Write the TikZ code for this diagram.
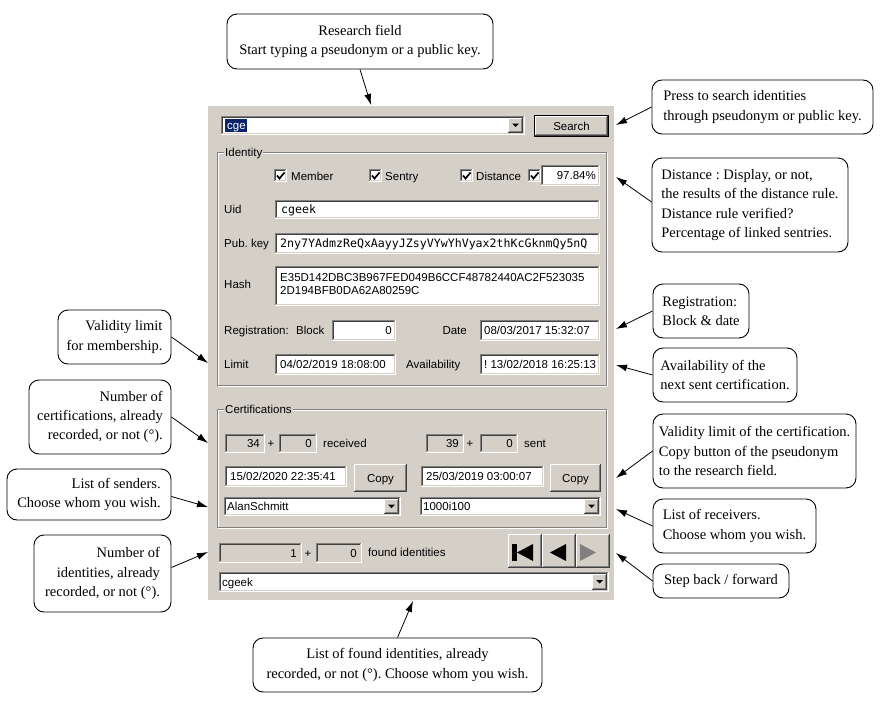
\documentclass[tikz,border=0pt]{standalone}
\usepackage{fontspec}
\setmainfont{Liberation Serif}
\newfontfamily\guifont{Liberation Sans}
\newfontfamily\monofont{DejaVu Sans Mono}
\usetikzlibrary{arrows.meta,calc}
\definecolor{guigray}{HTML}{D4D0C8}
\definecolor{gdark}{HTML}{808080}
\definecolor{gblack}{HTML}{404040}
\definecolor{selblue}{HTML}{0A246A}
\frenchspacing
\tikzset{
  callout/.style={draw=black, line width=0.9pt, fill=white, rounded corners=10pt,
    inner sep=0pt, font=\fontsize{14.5}{19.3}\selectfont},
  ptr/.style={-{Latex[length=11pt,width=7pt]}, line width=0.8pt},
  gui/.style={font=\guifont\fontsize{11.5}{13.5}\selectfont, inner sep=0pt},
  mono/.style={font=\monofont\fontsize{11.6}{14}\selectfont, inner sep=0pt},
  gl/.style={gui, anchor=base west},
  gr/.style={gui, anchor=base east},
  gc/.style={gui, anchor=base},
}
\newcommand\winSunk[5]{%
  \fill[#5] (#1,#2) rectangle (#3,#4);
  \draw[gdark, line width=1pt] (#1+0.5,#4) -- (#1+0.5,#2+0.5) -- (#3,#2+0.5);
  \draw[gblack, line width=1pt] (#1+1.5,#4-1) -- (#1+1.5,#2+1.5) -- (#3-1,#2+1.5);
  \draw[white, line width=1pt] (#1,#4-0.5) -- (#3-0.5,#4-0.5) -- (#3-0.5,#2);
  \draw[guigray, line width=1pt] (#1+1,#4-1.5) -- (#3-1.5,#4-1.5) -- (#3-1.5,#2+1);
}
\newcommand\winRaise[4]{%
  \fill[guigray] (#1,#2) rectangle (#3,#4);
  \draw[white, line width=1pt] (#1+0.5,#4-1) -- (#1+0.5,#2+0.5) -- (#3-1,#2+0.5);
  \draw[gblack, line width=1pt] (#1,#4-0.5) -- (#3-0.5,#4-0.5) -- (#3-0.5,#2);
  \draw[gdark, line width=1pt] (#1+1,#4-1.5) -- (#3-1.5,#4-1.5) -- (#3-1.5,#2+1);
}
\newcommand\winCheck[2]{%
  \winSunk{#1}{#2}{#1+13}{#2+13}{white}
  \draw[line width=1.7pt] (#1+3,#2+6.5) -- (#1+5.5,#2+9.5) -- (#1+10.5,#2+3.5);
}
\newcommand\winDrop[3]{% x2 y1 y2
  \winRaise{#1-17}{#2+2}{#1-2}{#3-2}
  \fill[black] (#1-13,{(#2+#3)/2-2}) -- (#1-6,{(#2+#3)/2-2}) -- (#1-9.5,{(#2+#3)/2+1.5}) -- cycle;
}
\newcommand\winGroup[6]{% x1 y1 x2 y2 name label
  \draw[white, line width=1pt] (#1+1,#2+1) rectangle (#3+1,#4+1);
  \draw[gdark, line width=1pt] (#1,#2) rectangle (#3,#4);
  \node[gui, fill=guigray, inner xsep=1pt, inner ysep=1pt, anchor=base west] (#5) at (#1+7,#2+4) {#6};
}
\begin{document}
\begin{tikzpicture}[x=1pt,y=-1pt]
\useasboundingbox (0,0) rectangle (889,712);
\fill[white] (0,0) rectangle (889,712);

% ---------- panel ----------
\fill[guigray] (208,106) rectangle (614,600);

% search combo
\winSunk{221}{116}{525}{135}{white}
\fill[selblue] (225,119) rectangle (247,132);
\node[gl, text=white] (tCge) at (227,129.5) {cge};
\winDrop{525}{116}{135}
\draw[black, line width=1pt] (534.5,115.5) rectangle (608.5,136.5);
\winRaise{535}{116}{608}{136}
\node[gc] (tSearch) at (571.5,130) {Search};

% identity group
\winGroup{217}{152}{606}{385}{gIdentity}{Identity}
\winCheck{274}{169}
\node[gl] (tMember) at (291,180) {Member};
\winCheck{369}{169}
\node[gl] (tSentry) at (385,180) {Sentry};
\winCheck{460}{169}
\node[gl] (tDistance) at (476,180) {Distance};
\winCheck{528}{169}
\winSunk{541}{165}{600}{186}{white}
\node[gr] (tPct) at (596,179.5) {97.84\%};

\node[gl] (lUid) at (224,213) {Uid};
\winSunk{275}{200}{600}{219}{white}
\node[mono, anchor=base west] (tUid) at (281,213.5) {cgeek};

\node[gl] (lPub) at (224,247) {Pub. key};
\winSunk{275}{233}{600}{254}{white}
\node[mono, anchor=base west] (tPub) at (280,247.5) {2ny7YAdmzReQxAayyJZsyVYwYhVyax2thKcGknmQy5nQ};

\node[gl] (lHash) at (224,288) {Hash};
\winSunk{275}{266}{600}{306}{white}
\node[gl] (tHash1) at (280,281) {E35D142DBC3B967FED049B6CCF48782440AC2F523035};
\node[gl] (tHash2) at (280,294.5) {2D194BFB0DA62A80259C};

\node[gl] (lReg) at (224,334) {Registration:};
\node[gl] (lBlock) at (296,334) {Block};
\winSunk{332}{320}{396}{341}{white}
\node[gr] (tBlock) at (392,334.5) {0};
\node[gr] (lDate) at (467,334) {Date};
\winSunk{480}{320}{600}{341}{white}
\node[gl] (tDate) at (484,334.5) {08/03/2017 15:32:07};

\node[gl] (lLimit) at (224,368) {Limit};
\winSunk{275}{354}{396}{375}{white}
\node[gl] (tLimit) at (280,368.5) {04/02/2019 18:08:00};
\node[gl] (lAvail) at (406,368) {Availability};
\winSunk{480}{354}{600}{375}{white}
\node[gl] (tAvail) at (484,368.5) {! 13/02/2018 16:25:13};

% certifications group
\winGroup{217}{409}{606}{527}{gCert}{Certifications}
\winSunk{225}{434}{265}{453}{guigray}
\node[gr] (tRecA) at (260,447.5) {34};
\node[gc] (tRecP) at (271,447) {+};
\winSunk{279}{434}{317}{453}{guigray}
\node[gr] (tRecB) at (312,447.5) {0};
\node[gl] (tRec) at (323,447) {received};

\winSunk{426}{434}{464}{453}{guigray}
\node[gr] (tSenA) at (459,447.5) {39};
\node[gc] (tSenP) at (470,447) {+};
\winSunk{480}{434}{518}{453}{guigray}
\node[gr] (tSenB) at (513,447.5) {0};
\node[gl] (tSen) at (524,447) {sent};

\winSunk{225}{466}{347}{487}{white}
\node[gl] (tRecDate) at (230,480) {15/02/2020 22:35:41};
\winRaise{354}{464}{407}{492}
\node[gc] (tCopyA) at (380.5,482) {Copy};
\winSunk{421}{466}{544}{487}{white}
\node[gl] (tSenDate) at (426,480) {25/03/2019 03:00:07};
\winRaise{550}{464}{601}{492}
\node[gc] (tCopyB) at (575.5,482) {Copy};

\winSunk{224}{497}{401}{516}{white}
\node[gl] (tSenders) at (227,510.5) {AlanSchmitt};
\winDrop{401}{497}{516}
\winSunk{420}{497}{601}{516}{white}
\node[gl] (tReceivers) at (423,510.5) {1000i100};
\winDrop{601}{497}{516}

% found identities
\winSunk{219}{543}{302}{563}{guigray}
\node[gr] (tFoundA) at (297,557) {1};
\node[gc] (tFoundP) at (308,557) {+};
\winSunk{316}{543}{362}{563}{guigray}
\node[gr] (tFoundB) at (357,557) {0};
\node[gl] (tFound) at (368,556.5) {found identities};

\winRaise{508}{534}{542}{568}
\winRaise{542}{534}{576}{568}
\winRaise{576}{534}{610}{568}
\fill[black] (512,544) rectangle (516.5,561);
\fill[black] (517,552.5) -- (533,544) -- (533,561) -- cycle;
\fill[black] (550,552.5) -- (566,544) -- (566,561) -- cycle;
\fill[gdark] (596,552.5) -- (580,544) -- (580,561) -- cycle;

\winSunk{219}{572}{609}{592}{white}
\node[gl] (tList) at (222,586) {cgeek};
\winDrop{609}{572}{592}

% ---------- callouts ----------
\node[callout, minimum width=266pt, minimum height=55pt, align=center] (c1) at (360,41.5)
  {Research field\\Start typing a pseudonym or a public key.};
\node[callout, minimum width=221pt, minimum height=54pt, align=left] (c2) at (762.5,107)
  {Press to search identities\\through pseudonym or public key.};
\node[callout, minimum width=196pt, minimum height=94pt, align=left] (c3) at (750,205)
  {Distance : Display, or not,\\the results of the distance rule.\\Distance rule verified?\\Percentage of linked sentries.};
\node[callout, minimum width=113pt, minimum height=54pt, align=right] (c4) at (114.5,337)
  {Validity limit\\for membership.};
\node[callout, minimum width=142pt, minimum height=74pt, align=right] (c5) at (100,417)
  {Number of\\certifications, already\\recorded, or not (°).};
\node[callout, minimum width=164pt, minimum height=51pt, align=right] (c6) at (89,494.5)
  {List of senders.\\Choose whom you wish.};
\node[callout, minimum width=137pt, minimum height=77pt, align=right] (c7) at (102.5,573.5)
  {Number of\\identities, already\\recorded, or not (°).};
\node[callout, minimum width=96pt, minimum height=54pt, align=left] (c8) at (701,311)
  {Registration:\\Block \& date};
\node[callout, minimum width=144pt, minimum height=54pt, align=left] (c9) at (725,375)
  {Availability of the\\next sent certification.};
\node[callout, minimum width=203pt, minimum height=74pt, align=left] (c10) at (754.5,451)
  {Validity limit of the certification.\\Copy button of the pseudonym\\to the research field.};
\node[callout, minimum width=163pt, minimum height=54pt, align=left] (c11) at (734.5,526)
  {List of receivers.\\Choose whom you wish.};
\node[callout, minimum width=136pt, minimum height=34pt, align=left] (c12) at (721,581)
  {Step back / forward};
\node[callout, minimum width=289pt, minimum height=54pt, align=center] (c13) at (397.5,665)
  {List of found identities, already\\recorded, or not (°). Choose whom you wish.};

% ---------- arrow targets ----------
\coordinate (t1) at (371,105);
\coordinate (t2) at (616,125);
\coordinate (t3) at (616,177);
\coordinate (t4) at (208,363);
\coordinate (t5) at (208,443);
\coordinate (t6) at (208,507);
\coordinate (t7) at (208,552);
\coordinate (t8) at (616,329);
\coordinate (t9) at (616,365);
\coordinate (t10) at (616,478);
\coordinate (t11) at (616,509);
\coordinate (t12) at (616,553);
\coordinate (t13) at (413,601);

\draw[ptr] (c1.south) -- (t1);
\draw[ptr] (c2.west) -- (t2);
\draw[ptr] ($(c3.west)+(0,-3)$) -- (t3);
\draw[ptr] (c4.east) -- (t4);
\draw[ptr] (c5.east) -- (t5);
\draw[ptr] ($(c6.east)+(0,2)$) -- (t6);
\draw[ptr] ($(c7.east)+(0,-6)$) -- (t7);
\draw[ptr] (c8.west) -- (t8);
\draw[ptr] (c9.west) -- (t9);
\draw[ptr] (c10.west) -- (t10);
\draw[ptr] (c11.west) -- (t11);
\draw[ptr] (c12.west) -- (t12);
\draw[ptr] (c13.north) -- (t13);
\end{tikzpicture}
\end{document}
